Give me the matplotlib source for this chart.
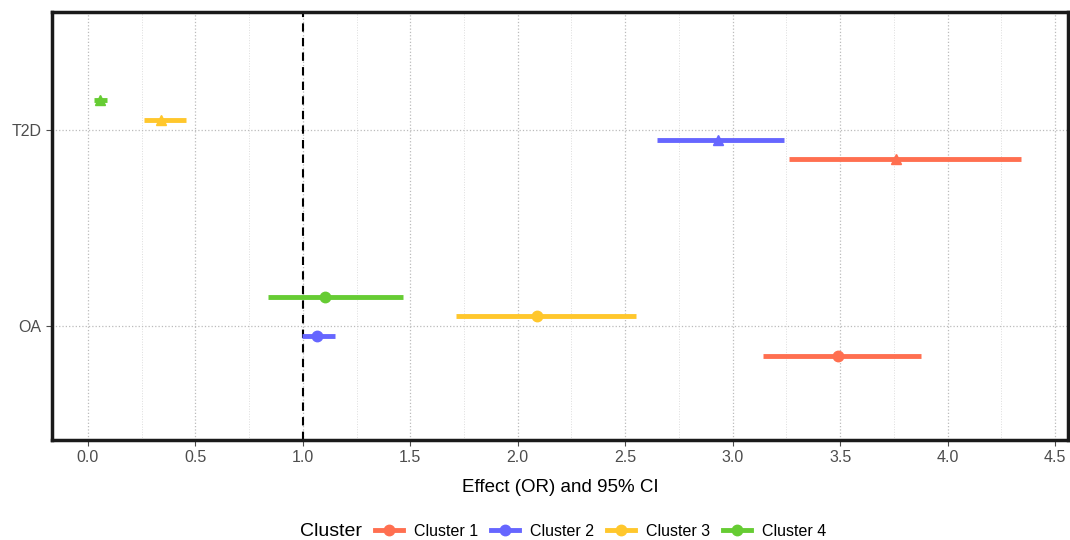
import numpy as np
import matplotlib
matplotlib.use("Agg")
import matplotlib.pyplot as plt
from matplotlib.lines import Line2D
from matplotlib.ticker import MultipleLocator

plt.rcParams['font.family'] = ['Liberation Sans', 'DejaVu Sans']

# data
outcomes = ['OA', 'T2D']
clusters = ['Cluster 1', 'Cluster 2', 'Cluster 3', 'Cluster 4']
colors = ['#FF6F50', '#6666FF', '#FFC72C', '#66CC33']

or_t2d = [3.76, 2.93, 0.34, 0.056]
lo_t2d = [3.26, 2.65, 0.26, 0.03]
hi_t2d = [4.34, 3.24, 0.455, 0.09]

or_oa = [3.49, 1.068, 2.09, 1.105]
lo_oa = [3.14, 0.994, 1.714, 0.836]
hi_oa = [3.874, 1.152, 2.55, 1.468]

offsets = [-0.15, -0.05, 0.05, 0.15]

fig = plt.figure(figsize=(10.7, 5.4), dpi=100)
ax = fig.add_axes([52 / 1070, 1 - 440 / 540, 1016 / 1070, 428 / 540])

ax.xaxis.set_major_locator(MultipleLocator(0.5))
ax.xaxis.set_minor_locator(MultipleLocator(0.25))
ax.grid(which='major', axis='x', color='#bbbbbb', linestyle=':', lw=0.9)
ax.grid(which='minor', axis='x', color='#dddddd', linestyle=':', lw=0.7)
ax.grid(which='major', axis='y', color='#bbbbbb', linestyle=':', lw=0.9)
ax.set_axisbelow(True)

ax.axvline(1.0, color='black', linestyle='--', lw=1.5, dashes=(4, 3), zorder=2)

for i, c in enumerate(clusters):
    y = 2 + offsets[i]
    ax.plot([lo_t2d[i], hi_t2d[i]], [y, y], color=colors[i], lw=3.5,
            solid_capstyle='butt', zorder=3)
    ax.plot(or_t2d[i], y, marker='^', color=colors[i], ms=7.5, zorder=4)
    y = 1 + offsets[i]
    ax.plot([lo_oa[i], hi_oa[i]], [y, y], color=colors[i], lw=3.5,
            solid_capstyle='butt', zorder=3)
    ax.plot(or_oa[i], y, marker='o', color=colors[i], ms=7.5, zorder=4)

ax.set_xlim(-0.167, 4.56)
ax.set_ylim(0.42, 2.6)
ax.set_yticks([1, 2])
ax.set_yticklabels(outcomes)
ax.tick_params(axis='both', labelsize=11.5, labelcolor='#4d4d4d', color='#4d4d4d', length=4)
ax.tick_params(axis='x', which='minor', length=0)
xt = np.arange(0, 4.51, 0.5)
ax.set_xticks(xt)
ax.set_xticklabels(['%.1f' % v for v in xt])
for s in ax.spines.values():
    s.set_linewidth(2.5)
    s.set_color('#1a1a1a')

ax.set_xlabel('Effect (OR) and 95% CI', fontsize=13.5, labelpad=10)

fig.text(300 / 1070, 1 - 531 / 540, 'Cluster', fontsize=14, va='center', ha='left')
handles = [Line2D([0], [0], color=col, lw=3.5, marker='o', ms=7.5) for col in colors]
fig.legend(handles, clusters, loc='center left', ncol=4, frameon=False,
           bbox_to_anchor=(375 / 1070, 1 - 531 / 540), fontsize=11.5,
           handlelength=1.75, handletextpad=0.7, columnspacing=0.8,
           borderpad=0, borderaxespad=0)

fig.savefig('out.png', dpi=100)
